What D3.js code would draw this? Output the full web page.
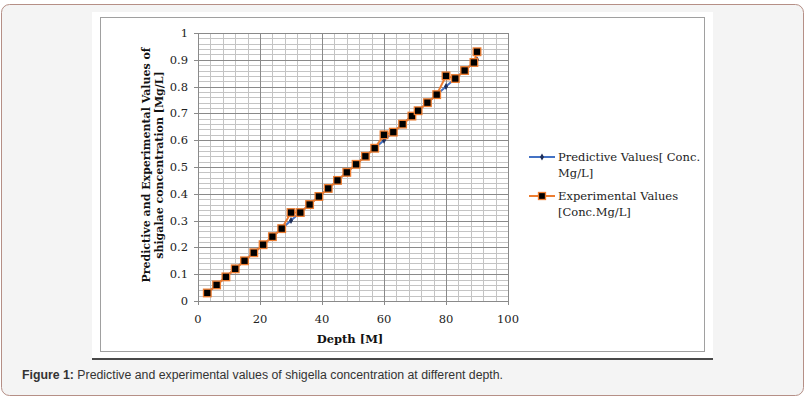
<!DOCTYPE html>
<html>
<head>
<meta charset="utf-8">
<script src="https://cdn.jsdelivr.net/npm/d3@7"></script>
<style>
  body { margin: 0; background: #fff; }
</style>
</head>
<body>
<div id="chart"></div>
<script>
// depth values and the two series
const depth = [3, 6, 9, 12, 15, 18, 21, 24, 27, 30, 33, 36, 39, 42, 45, 48, 51, 54, 57, 60,
               63, 66, 69, 71, 74, 77, 80, 83, 86, 89, 90];
const predictive = [0.03, 0.06, 0.09, 0.12, 0.15, 0.18, 0.21, 0.24, 0.27, 0.30, 0.33, 0.36, 0.39, 0.42, 0.45, 0.48, 0.51, 0.54, 0.57, 0.60,
                    0.63, 0.66, 0.69, 0.71, 0.74, 0.77, 0.80, 0.83, 0.86, 0.89, 0.90];
const experimental = [0.03, 0.06, 0.09, 0.12, 0.15, 0.18, 0.21, 0.24, 0.27, 0.33, 0.33, 0.36, 0.39, 0.42, 0.45, 0.48, 0.51, 0.54, 0.57, 0.62,
                      0.63, 0.66, 0.69, 0.71, 0.74, 0.77, 0.84, 0.83, 0.86, 0.89, 0.93];
const xTicks = [0, 20, 40, 60, 80, 100];
const yTicks = [0, 0.1, 0.2, 0.3, 0.4, 0.5, 0.6, 0.7, 0.8, 0.9, 1];
const seriesNames = [["Predictive Values[ Conc.", "Mg/L]"], ["Experimental Values", "[Conc.Mg/L]"]];

const W = 806, H = 400;
const plot = {left: 198, right: 508, top: 33, bottom: 301};
const serif = "'DejaVu Serif', serif";

const svg = d3.select("#chart").append("svg")
  .attr("width", W).attr("height", H);

// page frame
svg.append("rect").attr("x", 1.5).attr("y", 4.5).attr("width", 802).attr("height", 391)
  .attr("rx", 8).attr("fill", "#f4f4f4").attr("stroke", "#b58f86");
svg.append("rect").attr("x", 92).attr("y", 12).attr("width", 621).attr("height", 346).attr("fill", "#fff");
svg.append("rect").attr("x", 100.5).attr("y", 17.5).attr("width", 604).attr("height", 334)
  .attr("fill", "none").attr("stroke", "#a0a0a0");
svg.append("line").attr("x1", 92).attr("x2", 713).attr("y1", 359).attr("y2", 359)
  .attr("stroke", "#111").attr("stroke-width", 1.5);

const caption = svg.append("text").attr("x", 22).attr("y", 379)
  .style("font-family", "Arial, 'Liberation Sans', sans-serif").style("font-size", "12.3px").attr("fill", "#333");
caption.append("tspan").style("font-weight", "bold").text("Figure 1:");
caption.append("tspan").text(" Predictive and experimental values of shigella concentration at different depth.");

const x = d3.scaleLinear().domain([0, 100]).range([plot.left, plot.right]);
const y = d3.scaleLinear().domain([0, 1]).range([plot.bottom, plot.top]);

const g = svg.append("g");

// minor grid
g.append("g").selectAll("line").data(d3.range(0, 101, 4).filter(v => v % 20 !== 0))
  .join("line")
  .attr("x1", d => Math.round(x(d)) + 0.5).attr("x2", d => Math.round(x(d)) + 0.5)
  .attr("y1", plot.top).attr("y2", plot.bottom)
  .attr("stroke", "#c4c4c4");
g.append("g").selectAll("line").data(d3.range(0, 51).map(i => i / 50).filter((v, i) => i % 5 !== 0))
  .join("line")
  .attr("y1", d => Math.round(y(d)) + 0.5).attr("y2", d => Math.round(y(d)) + 0.5)
  .attr("x1", plot.left).attr("x2", plot.right)
  .attr("stroke", "#c4c4c4");

// major grid
g.append("g").selectAll("line").data(xTicks)
  .join("line")
  .attr("x1", d => Math.round(x(d)) + 0.5).attr("x2", d => Math.round(x(d)) + 0.5)
  .attr("y1", plot.top).attr("y2", plot.bottom + 4)
  .attr("stroke", "#8a8a8a");
g.append("g").selectAll("line").data(yTicks)
  .join("line")
  .attr("y1", d => Math.round(y(d)) + 0.5).attr("y2", d => Math.round(y(d)) + 0.5)
  .attr("x1", plot.left - 4).attr("x2", plot.right)
  .attr("stroke", "#8a8a8a");

// tick labels
g.append("g").selectAll("text").data(xTicks)
  .join("text")
  .attr("x", d => x(d)).attr("y", plot.bottom + 22)
  .attr("text-anchor", "middle")
  .style("font-family", serif).style("font-size", "11.5px").attr("fill", "#222")
  .text(d => d);
g.append("g").selectAll("text").data(yTicks)
  .join("text")
  .attr("x", plot.left - 10).attr("y", d => y(d) + 4)
  .attr("text-anchor", "end")
  .style("font-family", serif).style("font-size", "11.5px").attr("fill", "#222")
  .text(d => d3.format("~g")(d));

// axis titles
svg.append("text").attr("x", x(50) - 3).attr("y", 343)
  .attr("text-anchor", "middle")
  .style("font-family", serif).style("font-size", "11.5px").style("font-weight", "bold").attr("fill", "#111")
  .text("Depth [M]");
const yt = svg.append("text").attr("transform", "translate(150,165) rotate(-90)")
  .attr("text-anchor", "middle")
  .style("font-family", serif).style("font-size", "11px").style("font-weight", "bold").attr("fill", "#111");
yt.append("tspan").attr("x", 0).attr("y", 0).text("Predictive and Experimental Values of");
yt.append("tspan").attr("x", 0).attr("y", 13).text("shigalae concentration [Mg/L]");

const pts = (vals) => depth.map((d, i) => [d, vals[i]]);
const line = d3.line().x(d => x(d[0])).y(d => y(d[1]));

// predictive series
g.append("path").datum(pts(predictive))
  .attr("d", line).attr("fill", "none").attr("stroke", "#4472c4").attr("stroke-width", 2);
g.append("g").selectAll("path").data(pts(predictive))
  .join("path")
  .attr("d", d3.symbol(d3.symbolDiamond, 14))
  .attr("transform", d => `translate(${x(d[0])},${y(d[1])})`)
  .attr("fill", "#1f2f5a");

// experimental series
g.append("path").datum(pts(experimental))
  .attr("d", line).attr("fill", "none").attr("stroke", "#ed7d31").attr("stroke-width", 2);
g.append("g").selectAll("rect").data(pts(experimental))
  .join("rect")
  .attr("x", d => x(d[0]) - 3.8).attr("y", d => y(d[1]) - 3.8)
  .attr("width", 7.6).attr("height", 7.6)
  .attr("fill", "#000").attr("stroke", "#ed7d31").attr("stroke-width", 1.3);

// legend
const legend = svg.append("g");
const lg = [{c: "#4472c4", y: 157}, {c: "#ed7d31", y: 196}];
lg.forEach((l, i) => {
  legend.append("line").attr("x1", 529).attr("x2", 555).attr("y1", l.y).attr("y2", l.y)
    .attr("stroke", l.c).attr("stroke-width", 2);
  if (i === 0) {
    legend.append("path").attr("d", d3.symbol(d3.symbolDiamond, 14))
      .attr("transform", `translate(542,${l.y})`).attr("fill", "#1f2f5a");
  } else {
    legend.append("rect").attr("x", 538.5).attr("y", l.y - 3.5).attr("width", 7).attr("height", 7)
      .attr("fill", "#000").attr("stroke", "#ed7d31").attr("stroke-width", 1.3);
  }
  const t = legend.append("text").style("font-family", serif).style("font-size", "11.5px").attr("fill", "#222");
  t.append("tspan").attr("x", 558).attr("y", l.y + 4).text(seriesNames[i][0]);
  t.append("tspan").attr("x", 558).attr("y", l.y + 20).text(seriesNames[i][1]);
});
</script>
</body>
</html>
